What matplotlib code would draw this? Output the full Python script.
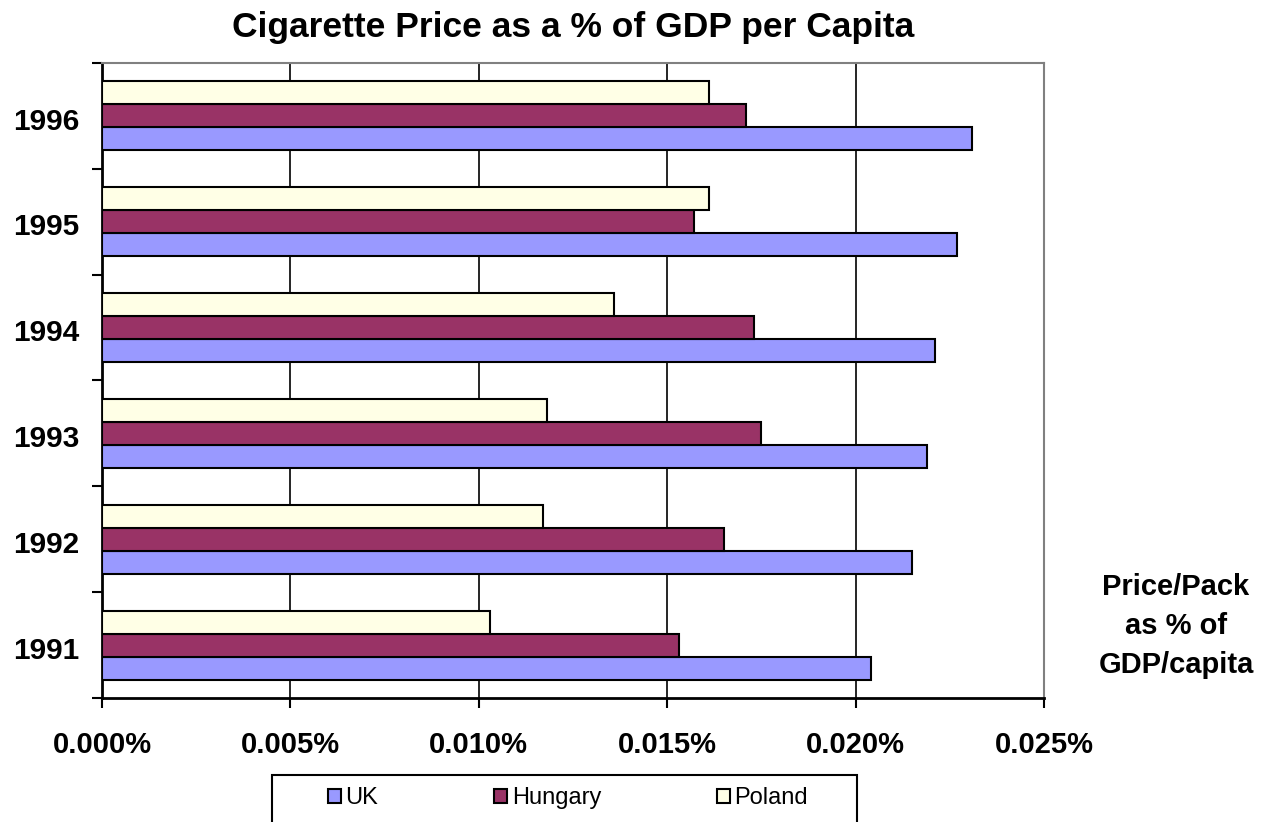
import matplotlib.pyplot as plt
import numpy as np
from matplotlib.patches import Rectangle, Patch
from matplotlib.ticker import FixedLocator

plt.rcParams['font.family'] = ['Liberation Sans', 'DejaVu Sans']

years = ['1991', '1992', '1993', '1994', '1995', '1996']
uk = [0.0204, 0.0215, 0.0219, 0.0221, 0.0227, 0.0231]
hungary = [0.0153, 0.0165, 0.0175, 0.0173, 0.0157, 0.0171]
poland = [0.0103, 0.0117, 0.0118, 0.0136, 0.0161, 0.0161]

fig = plt.figure(figsize=(12.61, 8.22), dpi=100)
ax = fig.add_axes([102/1261, 1-698/822, (1044-102)/1261, (698-63)/822])

y = np.arange(len(years))
h = 0.217
ax.barh(y - h, uk, h, color='#9999FF', edgecolor='black', linewidth=1.5, zorder=3)
ax.barh(y, hungary, h, color='#993366', edgecolor='black', linewidth=1.5, zorder=3)
ax.barh(y + h, poland, h, color='#FFFFE6', edgecolor='black', linewidth=1.5, zorder=3)

ax.set_xlim(0, 0.025)
ax.set_ylim(-0.5, len(years) - 0.5)
xt = np.arange(0, 0.0251, 0.005)
ax.set_xticks(xt)
ax.set_xticklabels(['%.3f%%' % v for v in xt], fontsize=21, fontweight='bold')
ax.xaxis.grid(True, color='black', linewidth=1.2, zorder=0)
ax.set_axisbelow(True)

# boundaries get the tick marks, centres get the year labels
ax.yaxis.set_major_locator(FixedLocator(np.arange(-0.5, len(years), 1.0)))
ax.yaxis.set_minor_locator(FixedLocator(y - 0.025))
ax.set_yticklabels([], minor=False)
ax.set_yticklabels(years, minor=True, fontsize=21.5, fontweight='bold')
ax.tick_params(axis='y', which='major', length=7, width=1.5, direction='out')
ax.tick_params(axis='y', which='minor', length=0, pad=16)
ax.tick_params(axis='x', length=7, width=1.5, direction='out', pad=17)

for s in ['top', 'right']:
    ax.spines[s].set_color('#808080')
    ax.spines[s].set_linewidth(1.5)
for s in ['left', 'bottom']:
    ax.spines[s].set_color('black')
    ax.spines[s].set_linewidth(2)

fig.text(573/1261, 1-28/822, 'Cigarette Price as a % of GDP per Capita',
         ha='center', va='center', fontsize=25.5, fontweight='bold')
fig.text(1176/1261, 1-626/822, 'Price/Pack\nas % of\nGDP/capita',
         ha='center', va='center', fontsize=21, fontweight='bold', linespacing=1.5)

fig.patches.append(Rectangle((272/1261, -0.05), (857-272)/1261, 0.05 + 1-775/822,
                             transform=fig.transFigure, fill=False,
                             edgecolor='black', linewidth=1.5))
handles = [Patch(facecolor='#9999FF', edgecolor='black', linewidth=1.5),
           Patch(facecolor='#993366', edgecolor='black', linewidth=1.5),
           Patch(facecolor='#FFFFE6', edgecolor='black', linewidth=1.5)]
fig.legend(handles, ['UK', 'Hungary', 'Poland'], loc='center',
           bbox_to_anchor=(568/1261, 1-798/822), ncol=3, frameon=False,
           fontsize=17, handlelength=0.55, handleheight=0.55,
           handletextpad=0.2, columnspacing=4.9)

fig.savefig('out.png', dpi=100)
